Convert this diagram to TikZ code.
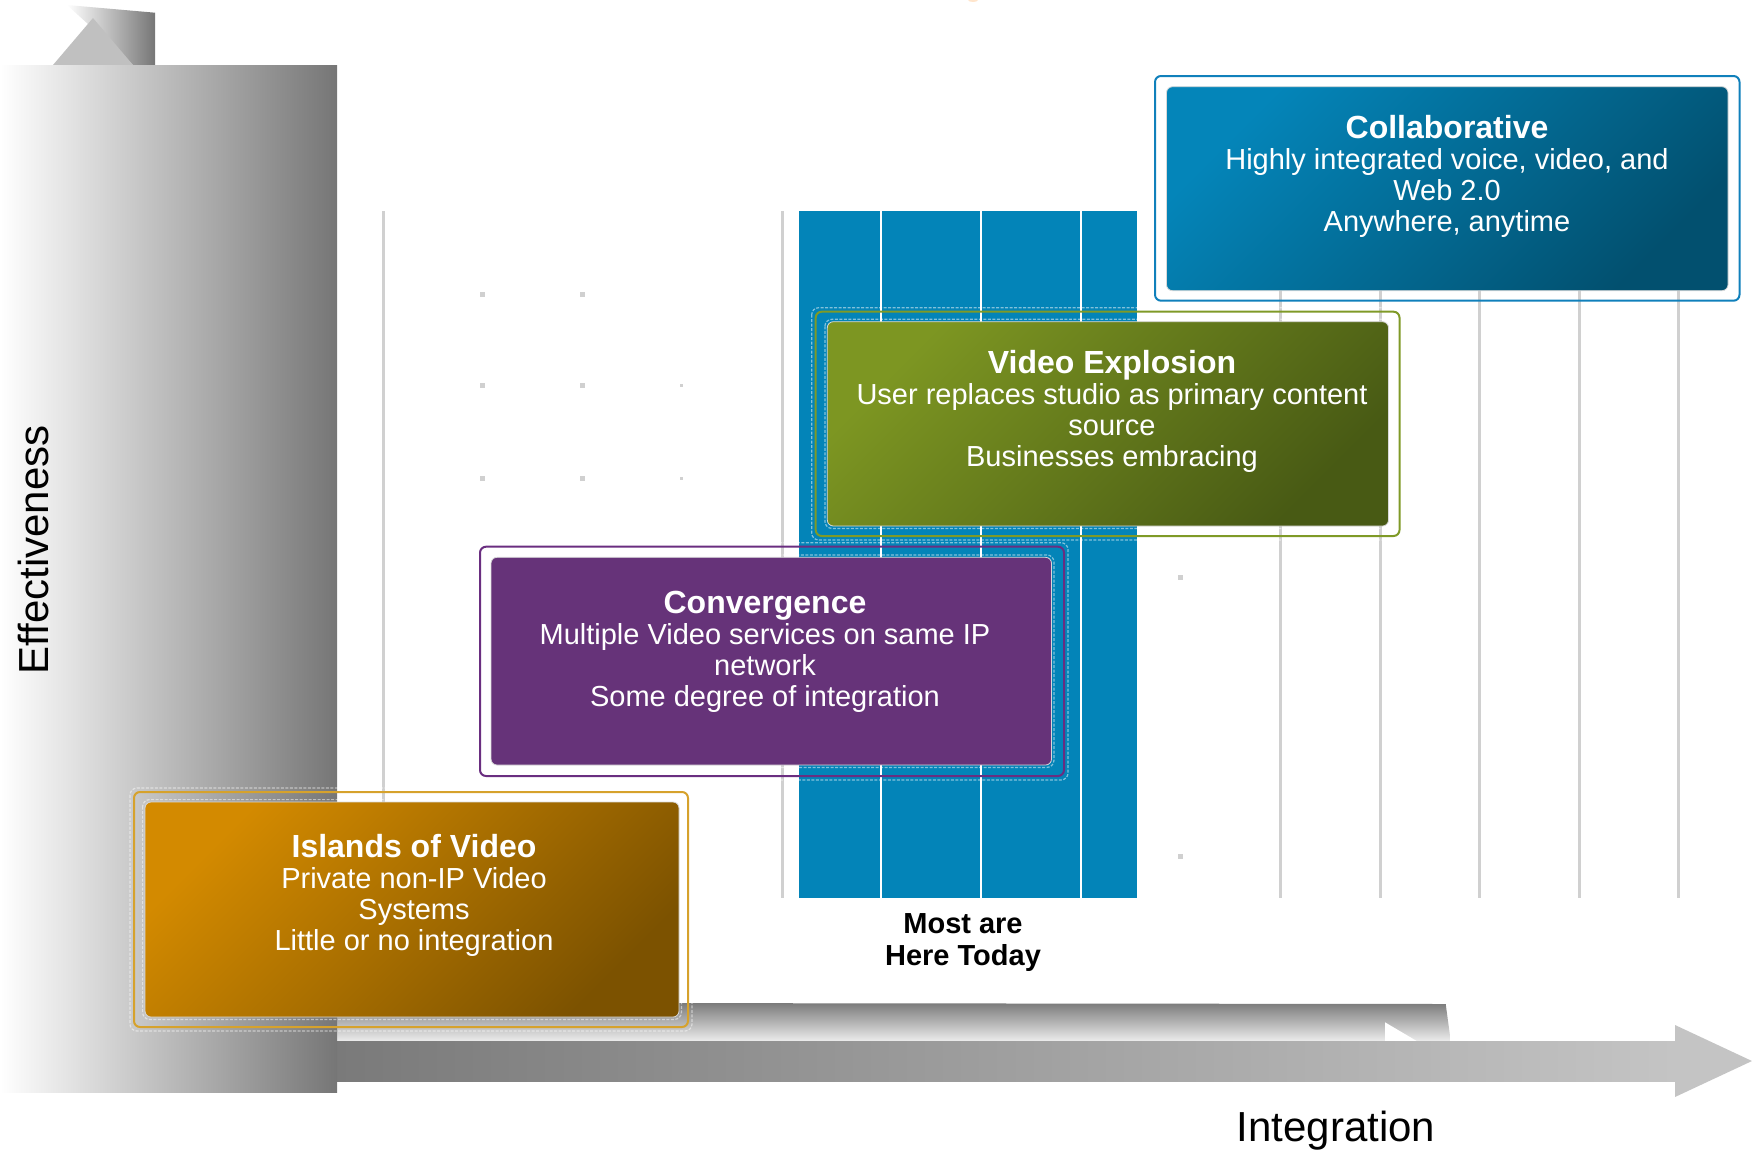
\documentclass[tikz,border=0pt]{standalone}
\usepackage{fontspec}
\setmainfont{Liberation Sans}
\definecolor{gridgray}{RGB}{208,208,208}
\definecolor{colblue}{RGB}{3,132,184}
\definecolor{collabframe}{RGB}{16,128,187}
\definecolor{collabA}{RGB}{4,133,185}
\definecolor{collabB}{RGB}{2,80,111}
\definecolor{veframe}{RGB}{127,154,39}
\definecolor{veA}{RGB}{125,150,34}
\definecolor{veB}{RGB}{72,90,20}
\definecolor{convframe}{RGB}{106,46,128}
\definecolor{convfill}{RGB}{102,51,121}
\definecolor{islframe}{RGB}{214,162,44}
\definecolor{islA}{RGB}{211,138,0}
\definecolor{islB}{RGB}{124,82,0}
\definecolor{grayA}{RGB}{118,118,118}
\definecolor{grayB}{RGB}{200,200,200}
\definecolor{grayC}{RGB}{196,196,196}
\definecolor{grayD}{RGB}{122,122,122}
\definecolor{grayE}{RGB}{236,236,236}
\definecolor{grayF}{RGB}{192,192,192}
\newcommand\boxtitle[1]{{\fontsize{32}{31}\selectfont\bfseries #1}}
\begin{document}
\begin{tikzpicture}[x=1pt,y=-1pt,
  gridline/.style={draw=gridgray, line width=3pt},
  whiteline/.style={draw=white, line width=2.5pt},
  frame/.style={draw, line width=2pt, rounded corners=6pt, inner sep=0pt},
  panel/.style={rounded corners=6pt, draw=white!85!black, line width=0.8pt, inner sep=0pt},
  glow/.style={draw=white, opacity=0.5, line width=1.2pt, dash pattern=on 3pt off 1.5pt, rounded corners=7pt},
  boxtext/.style={text=white, align=center, inner sep=0pt, anchor=north, font=\fontsize{29}{31}\selectfont},
  axislabel/.style={font=\fontsize{42}{46}\selectfont, text=black, inner sep=0pt}
]
\useasboundingbox (0,0) rectangle (1752,1151);

% grid
\foreach \x in {383,782,1280,1380,1479,1579,1678} \draw[gridline] (\x,211) -- (\x,898);
\foreach \x/\y in {482/294,582/294,482/385,582/385,482/478,582/478,1180/577,1180/856}
  \fill[gridgray] (\x-2.5,\y-2.5) rectangle +(5,5);
\foreach \x/\y in {681/385,681/478}
  \fill[gridgray] (\x-1.5,\y-1.5) rectangle +(3,3);

% blue column
\fill[colblue] (799,211) rectangle (1137,898);
\foreach \x in {881,981,1081} \draw[whiteline] (\x,211) -- (\x,898);

% tiny mark at top
\fill[orange!20] (973,0) ellipse (5 and 2);

% horizontal axis
\shade[top color=grayD, bottom color=grayE] (337,1002.7) -- (1445.7,1004) -- (1450.7,1041) -- (337,1041) -- cycle;
\fill[white] (1385,1022.3) -- (1385,1041) -- (1416.7,1041) -- cycle;
\shade[left color=grayD, right color=grayC] (337,1041) rectangle (1675,1081);
\fill[grayC] (1675,1025) -- (1752,1061) -- (1675,1097) -- cycle;

% vertical axis
\shade[left color=white, right color=grayA] (67,5) -- (155,12.7) -- (155,65) -- (133,65) -- cycle;
\fill[grayF] (93,18) -- (53,65) -- (133,65) -- cycle;
\shade[left color=white, middle color=grayB, right color=grayA] (0,65) rectangle (337,1092);

% Islands of Video
\node[frame, draw=islframe, minimum width=554pt, minimum height=235pt] (islout) at (411,909.5) {};
\node[panel, top color=islA, bottom color=islB, shading angle=45, minimum width=534pt, minimum height=215pt] (isl) at (412,909.5) {};
\draw[glow] ([shift={(-2,-2)}]isl.north west) rectangle ([shift={(2,2)}]isl.south east);
\draw[glow] ([shift={(-3,-3)}]islout.north west) rectangle ([shift={(3,3)}]islout.south east);
\node[boxtext] (isltext) at (414,834) {\boxtitle{Islands of Video}\\Private non-IP Video\\Systems\\Little or no integration};

% Convergence
\node[frame, draw=convframe, minimum width=584pt, minimum height=229.3pt] (convout) at (772,661.35) {};
\node[panel, fill=convfill, minimum width=560.5pt, minimum height=207.7pt] (conv) at (771.25,661.15) {};
\draw[glow] ([shift={(-2,-2)}]conv.north west) rectangle ([shift={(2,2)}]conv.south east);
\draw[glow] ([shift={(-3,-3)}]convout.north west) rectangle ([shift={(3,3)}]convout.south east);
\node[boxtext] (convtext) at (765,591) {\boxtitle{Convergence}\\Multiple Video services on same IP\\network\\Some degree of integration};

% Video Explosion
\node[frame, draw=veframe, minimum width=583.8pt, minimum height=224.3pt] (veout) at (1107.6,423.85) {};
\node[panel, top color=veA, bottom color=veB, shading angle=45, minimum width=561.2pt, minimum height=204.3pt] (ve) at (1107.9,423.85) {};
\draw[glow] ([shift={(-2,-2)}]ve.north west) rectangle ([shift={(2,2)}]ve.south east);
\draw[glow] ([shift={(-3,-3)}]veout.north west) rectangle ([shift={(3,3)}]veout.south east);
\node[boxtext] (vetext) at (1112,350) {\boxtitle{Video Explosion}\\User replaces studio as primary content\\source\\Businesses embracing};

% Collaborative
\node[frame, draw=collabframe, minimum width=584.5pt, minimum height=224.7pt] (collabout) at (1447.25,188.35) {};
\node[panel, top color=collabA, bottom color=collabB, shading angle=45, minimum width=561.5pt, minimum height=204pt] (collab) at (1447.25,188.7) {};
\node[boxtext] (collabtext) at (1447,114.7) {\boxtitle{Collaborative}\\Highly integrated voice, video, and\\Web 2.0\\Anywhere, anytime};

% labels
\node[axislabel, rotate=90] (eff) at (33,550) {Effectiveness};
\node[axislabel, anchor=base] (integ) at (1336,1141) {Integration};
\node[align=center, anchor=north, inner sep=0pt, font=\fontsize{29}{32}\selectfont\bfseries] (today) at (963,913.5) {Most are\\Here Today};
\end{tikzpicture}
\end{document}
